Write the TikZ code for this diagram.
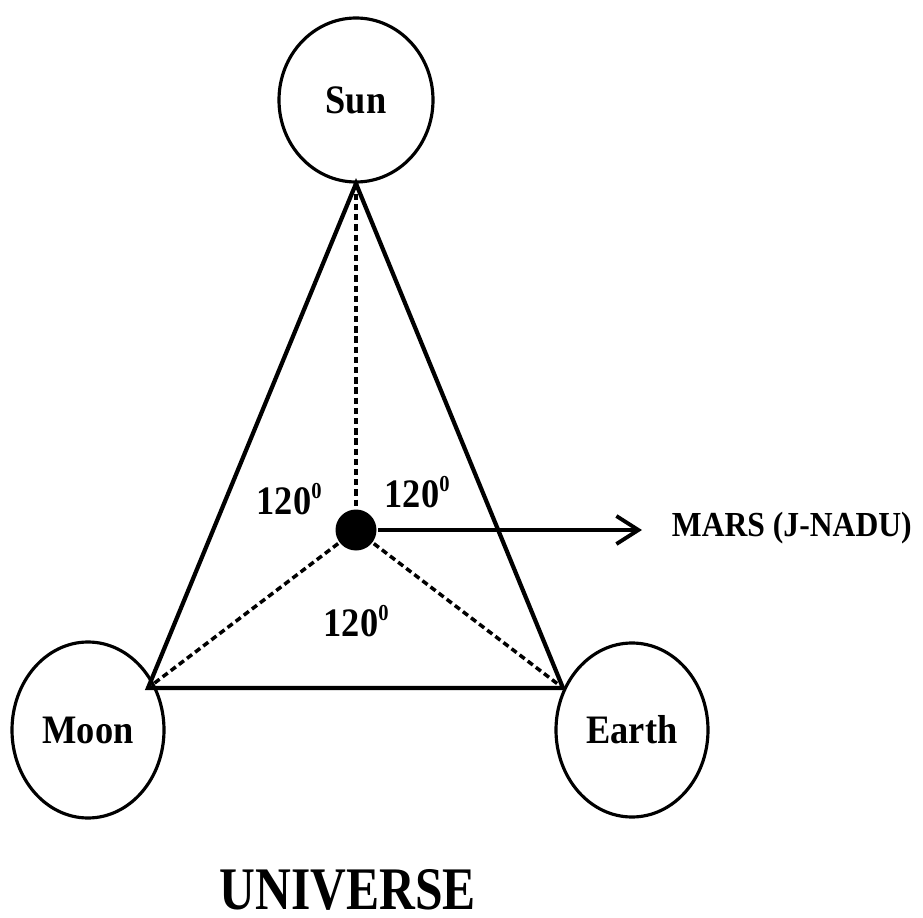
\documentclass[tikz,border=0pt]{standalone}
\usepackage{fontspec}
\setmainfont{Liberation Serif}
\newfontfamily\diagfont[FakeStretch=0.9]{Liberation Serif}
\newfontfamily\titlefont[FakeStretch=0.82]{Liberation Serif}
\usetikzlibrary{arrows.meta, shapes.geometric}

\newcommand\supzero{\textsuperscript{\fontsize{6.5}{7}\selectfont 0}}

\tikzset{
  body/.style={draw, ellipse, line width=0.9pt, inner sep=0pt,
    font=\diagfont\bfseries\fontsize{11.5}{13}\selectfont},
  anglelabel/.style={font=\diagfont\bfseries\fontsize{11.5}{13}\selectfont},
  link/.style={line width=1pt, dash pattern=on 1.8pt off 1.1pt}
}

\begin{document}
\begin{tikzpicture}[>={Straight Barb[length=2.2mm, width=2.8mm]}, line width=1.1pt]
    \useasboundingbox (0,0) rectangle (9.23,9.17);

    % the three bodies
    \node[body, minimum width=1.54cm, minimum height=1.64cm] (Sun) at (3.56,8.17) {Sun};
    \node[body, minimum width=1.52cm, minimum height=1.76cm] (Moon) at (0.88,1.87) {Moon};
    \node[body, minimum width=1.52cm, minimum height=1.74cm] (Earth) at (6.32,1.87) {Earth};

    % corners of the triangle
    \coordinate (MoonV) at (1.48,2.29);
    \coordinate (EarthV) at (5.63,2.29);
    \coordinate (MarsEnd) at (6.42,3.87);

    % triangle
    \draw[line width=1.2pt] (Sun.south) -- (MoonV) -- (EarthV) -- cycle;

    % centre point
    \node[circle, fill, inner sep=0pt, minimum size=0.41cm] (Mars) at (3.56,3.87) {};

    % dashed lines to the corners
    \draw[link] (Sun.south) -- (Mars);
    \draw[link] (Mars) -- (MoonV);
    \draw[link] (Mars) -- (EarthV);

    % arrow and label
    \draw[->] (Mars.east) -- (MarsEnd);
    \node[anchor=west, font=\diagfont\bfseries\fontsize{10}{12}\selectfont, inner sep=0pt] (MarsLabel) at (6.70,3.89) {MARS (J-NADU)};

    % angles
    \node[anglelabel] (AngLeft) at (2.90,4.18) {120\supzero};
    \node[anglelabel] (AngRight) at (4.18,4.25) {120\supzero};
    \node[anglelabel] (AngBottom) at (3.57,2.96) {120\supzero};

    % title
    \node[font=\titlefont\bfseries\fontsize{17.2}{20}\selectfont, inner sep=0pt, anchor=base] (Title) at (3.48,0.08) {UNIVERSE};
\end{tikzpicture}
\end{document}
